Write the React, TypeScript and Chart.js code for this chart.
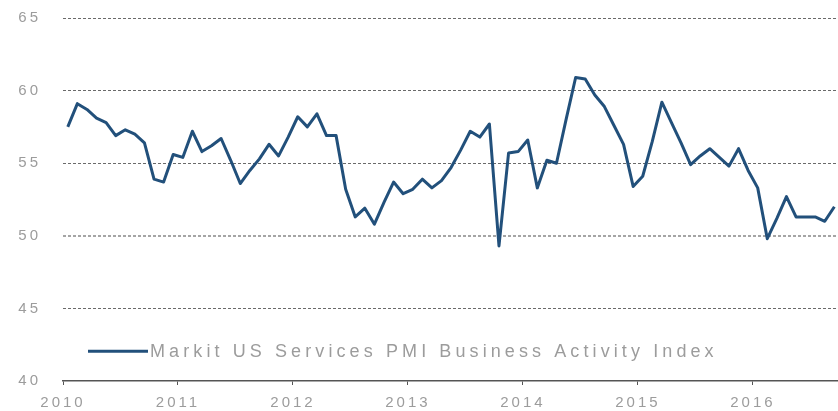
import React, { useEffect, useRef } from "react";
import { Chart, registerables } from "chart.js";

Chart.register(...registerables);

const seriesLabel = "Markit US Services PMI Business Activity Index";
const startYear = 2010;
// Monthly values, Jan 2010 .. Sep 2016
const pmiValues = [
  57.5, 59.1, 58.7, 58.1, 57.8, 56.9, 57.3, 57.0, 56.4, 53.9, 53.7, 55.6,
  55.4, 57.2, 55.8, 56.2, 56.7, 55.2, 53.6, 54.5, 55.3, 56.3, 55.5, 56.8,
  58.2, 57.5, 58.4, 56.9, 56.9, 53.2, 51.3, 51.9, 50.8, 52.3, 53.7, 52.9,
  53.2, 53.9, 53.3, 53.8, 54.7, 55.9, 57.2, 56.8, 57.7, 49.3, 55.7, 55.8,
  56.6, 53.3, 55.2, 55.0, 58.0, 60.9, 60.8, 59.7, 58.9, 57.6, 56.3, 53.4,
  54.1, 56.5, 59.2, 57.8, 56.4, 54.9, 55.5, 56.0, 55.4, 54.8, 56.0, 54.5,
  53.3, 49.8, 51.2, 52.7, 51.3, 51.3, 51.3, 51.0, 52.0,
];
const yearTicks = [2010, 2011, 2012, 2013, 2014, 2015, 2016];
const yTicks = [40, 45, 50, 55, 60, 65];
const xMin = 2010;
const xMax = 2016.74;
const yMin = 40;
const yMax = 65;

const LINE_COLOR = "#22507b";
const TEXT_COLOR = "#9c9c9c";
const FONT_FAMILY = "'Liberation Sans', Arial, sans-serif";

export default function App() {
  const ref = useRef<HTMLCanvasElement | null>(null);

  useEffect(() => {
    document.body.style.margin = "0";
    if (!ref.current) return;
    const points = pmiValues.map((v, i) => ({ x: startYear + (i + 0.5) / 12, y: v }));

    const spacingPlugin = {
      id: "spacing",
      beforeUpdate(c: any) {
        c.ctx.letterSpacing = "3px";
      },
      beforeDraw(c: any) {
        c.ctx.letterSpacing = "3px";
      },
    };

    const insideLegend = {
      id: "insideLegend",
      afterDraw(c: any) {
        const ctx = c.ctx;
        const area = c.chartArea;
        const y = c.scales.y.getPixelForValue(42.05);
        const x0 = area.left + 25;
        ctx.save();
        ctx.strokeStyle = LINE_COLOR;
        ctx.lineWidth = 3;
        ctx.beginPath();
        ctx.moveTo(x0, y);
        ctx.lineTo(x0 + 60, y);
        ctx.stroke();
        ctx.letterSpacing = "4.1px";
        ctx.font = `18px ${FONT_FAMILY}`;
        ctx.fillStyle = TEXT_COLOR;
        ctx.textAlign = "left";
        ctx.textBaseline = "middle";
        ctx.fillText(c.data.datasets[0].label, x0 + 62, y + 1);
        ctx.restore();
      },
    };

    const chart = new Chart(ref.current, {
      type: "line",
      data: {
        datasets: [
          {
            label: seriesLabel,
            data: points,
            borderColor: LINE_COLOR,
            backgroundColor: LINE_COLOR,
            borderWidth: 3,
            pointRadius: 0,
            tension: 0,
            borderJoinStyle: "round",
          },
        ],
      },
      options: {
        animation: false,
        responsive: true,
        maintainAspectRatio: false,
        layout: { padding: { top: 18, left: 0, right: 0, bottom: 0 } },
        plugins: {
          legend: { display: false },
          tooltip: { enabled: false },
          title: { display: false },
        },
        scales: {
          x: {
            type: "linear",
            min: xMin,
            max: xMax,
            afterBuildTicks: (s: any) => {
              s.ticks = yearTicks.map((v) => ({ value: v }));
            },
            afterFit: (s: any) => {
              s.height = 30;
              s.paddingLeft = 0;
              s.paddingRight = 0;
            },
            grid: {
              drawOnChartArea: false,
              drawTicks: true,
              tickLength: 4,
              color: "#555",
            },
            border: { display: true, color: "#555", width: 1.5 },
            ticks: {
              autoSkip: false,
              maxRotation: 0,
              padding: 9,
              color: TEXT_COLOR,
              font: { family: FONT_FAMILY, size: 15 },
              callback: (v: any) => String(v),
            },
          },
          y: {
            min: yMin,
            max: yMax,
            afterBuildTicks: (s: any) => {
              s.ticks = yTicks.map((v) => ({ value: v }));
            },
            afterFit: (s: any) => {
              s.width = 63;
              s.paddingTop = 0;
              s.paddingBottom = 0;
            },
            grid: {
              drawTicks: false,
              color: (ctx: any) => {
                const v = ctx.tick?.value;
                if (v === 40) return "rgba(0,0,0,0)";
                if (v === 50) return "#a5a5a5";
                return "#6a6a6a";
              },
              lineWidth: (ctx: any) => (ctx.tick?.value === 50 ? 2 : 1),
            },
            border: { display: false, dash: [3, 2] },
            ticks: {
              padding: 22,
              color: TEXT_COLOR,
              font: { family: FONT_FAMILY, size: 15 },
              callback: (v: any) => String(v),
            },
          },
        },
      },
      plugins: [spacingPlugin, insideLegend],
    } as any);

    return () => chart.destroy();
  }, []);

  return (
    <div style={{ position: "relative", width: 838, height: 411 }}>
      <canvas ref={ref} />
    </div>
  );
}
